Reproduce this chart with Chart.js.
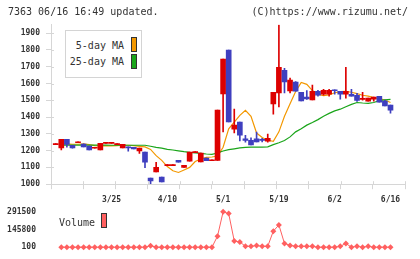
<!DOCTYPE html>
<html><head><meta charset="utf-8">
<script src="https://cdn.jsdelivr.net/npm/chart.js@4/dist/chart.umd.min.js"></script>
<style>
html,body{margin:0;padding:0;background:#fff;width:420px;height:259px;overflow:hidden;font-family:"DejaVu Sans Mono",monospace;}
#wrap{position:relative;width:420px;height:259px;}
.t{position:absolute;font-size:10px;color:#333;white-space:nowrap;line-height:10px;}
#main{position:absolute;left:0;top:0;}
#vol{position:absolute;left:0;top:200px;}
.leg{position:absolute;border:1px solid #d4d4d4;background:#fff;box-sizing:border-box;}
.sw{position:absolute;width:6px;height:15px;border:1px solid #333;box-sizing:border-box;}
</style></head>
<body><div id="wrap">
<canvas id="main" width="420" height="210"></canvas>
<canvas id="vol" width="420" height="59"></canvas>
<div class="t" style="left:8px;top:7px;">7363 06/16 16:49 updated.</div>
<div class="t" style="right:12px;top:7px;">(C)https://www.rizumu.net/</div>
<div class="leg" style="left:65px;top:30px;width:77px;height:48px;"></div>
<div class="t" style="right:296px;top:41px;">5-day MA</div>
<div class="sw" style="left:131px;top:37px;background:#f39800;"></div>
<div class="t" style="right:296px;top:57px;">25-day MA</div>
<div class="sw" style="left:131px;top:54px;background:#1aa51a;"></div>
<div class="t" style="left:59px;top:218px;">Volume</div>
<div class="sw" style="left:101px;top:213px;background:#ff6060;"></div>
</div>
<script>
// index 0 is the first (doji) candle; index p sits at category position p
const opens  = [1236,1216,1268,1232,1247,1239,1227,1214,1204,1243,1243,1236,1216,1222,1220,1198,1192,1036,1073,1042,1111,1111,1143,1100,1137,1188,1133,1156,1140,1141,1538,1799,1328,1370,1270,1262,1270,1263,1256,1479,1544,1679,1556,1608,1548,1519,1502,1554,1536,1536,1560,1554,1536,1536,1530,1506,1495,1507,1524,1495,1471];
const closes = [1238,1268,1237,1216,1250,1222,1204,1216,1244,1245,1245,1238,1238,1216,1210,1215,1132,1019,1101,1013,1113,1113,1131,1112,1191,1190,1185,1140,1142,1441,1745,1371,1352,1292,1261,1234,1252,1261,1274,1548,1697,1610,1620,1554,1497,1508,1554,1530,1560,1560,1557,1536,1554,1524,1500,1508,1513,1519,1489,1467,1441];
const highs  = [1238,1268,1268,1232,1250,1240,1227,1216,1244,1245,1245,1238,1238,1222,1220,1215,1192,1036,1131,1042,1113,1113,1143,1112,1191,1190,1185,1156,1142,1441,1745,1799,1447,1370,1292,1276,1310,1274,1298,1548,1950,1691,1632,1612,1548,1558,1590,1560,1566,1566,1562,1554,1697,1566,1542,1548,1513,1519,1524,1501,1471];
const lows   = [1236,1204,1220,1214,1247,1222,1204,1214,1204,1243,1243,1236,1216,1197,1210,1183,1099,1003,1073,1013,1111,1111,1131,1100,1137,1188,1133,1140,1140,1141,1312,1371,1306,1258,1250,1234,1252,1252,1250,1417,1461,1544,1544,1554,1497,1505,1502,1524,1530,1524,1536,1507,1513,1524,1494,1501,1495,1495,1489,1467,1423];
const ma5  = [null,1238,1240,1238,1238,1240,1236,1230,1228,1228,1228,1230,1232,1232,1230,1226,1222,1207,1170,1142,1105,1080,1070,1085,1100,1135,1150,1160,1162,1168,1220,1330,1370,1410,1440,1404,1305,1278,1262,1256,1312,1405,1480,1552,1606,1595,1558,1535,1528,1532,1545,1552,1553,1548,1540,1530,1525,1516,1510,1502,1487];
const ma25 = [null,1233,1233,1233,1233,1233,1233,1233,1233,1233,1232,1232,1232,1232,1232,1232,1232,1226,1220,1215,1208,1204,1199,1194,1190,1187,1184,1180,1178,1186,1198,1206,1211,1216,1220,1221,1221,1221,1223,1236,1247,1260,1282,1312,1330,1352,1368,1385,1405,1422,1437,1447,1462,1476,1487,1484,1482,1487,1498,1502,1505];
const volumes = [null,100,100,100,100,100,100,100,100,100,100,100,100,100,100,100,100,12000,100,100,100,100,100,100,100,100,100,100,100,91000,291500,277000,50700,43500,7300,7300,14600,7300,7300,132400,183000,31000,14600,7300,7300,7300,7300,100,100,100,100,7300,31000,100,7300,100,7300,100,100,100,100];
const dateTicks = [10,20,30,40,50,60];
const dateLabels = ['3/25','4/10','5/1','5/19','6/2','6/16'];
const priceTicks = [1000,1100,1200,1300,1400,1500,1600,1700,1800,1900];
const volumeTicks = [100,145800,291500];

const UP = '#dd0000', DOWN = '#3f3fbf', AXIS = '#d6d6d6';
const X_MIN = -0.846, X_MAX = 62.6;
const candleColors = opens.map((o, i) => closes[i] >= o ? UP : DOWN);
const tickFont = {family: 'DejaVu Sans Mono', size: 8, weight: 'bold'};
const plain = v => String(v);

const crossTicks = {
  id: 'crossTicks',
  afterDraw(chart) {
    const ctx = chart.ctx, ca = chart.chartArea;
    ctx.save();
    ctx.strokeStyle = AXIS; ctx.lineWidth = 1;
    ctx.beginPath();
    const ys = chart.scales.y;
    ys.ticks.forEach(t => { const py = Math.round(ys.getPixelForValue(t.value)) + 0.5; ctx.moveTo(ca.left, py); ctx.lineTo(ca.left + 3, py); });
    const xs = chart.scales.x;
    xs.ticks.forEach(t => { const px = Math.round(xs.getPixelForValue(t.value)) + 0.5; ctx.moveTo(px, ca.bottom); ctx.lineTo(px, ca.bottom - 3); });
    ctx.stroke();
    ctx.restore();
  }
};

const pos = opens.map((_, i) => i);

new Chart(document.getElementById('main'), {
  type: 'bar',
  data: { datasets: [
    { type: 'bar', data: pos.map(p => ({x: p, y: [opens[p], closes[p]]})), backgroundColor: candleColors, barThickness: 5, minBarLength: 1, grouped: false, order: 0 },
    { type: 'bar', data: pos.map(p => ({x: p, y: [lows[p], highs[p]]})), backgroundColor: candleColors, barThickness: 1, minBarLength: 1, grouped: false, order: 1 },
    { type: 'line', data: ma25.map((v, p) => ({x: p, y: v})), borderColor: '#1aa51a', borderWidth: 1.2, pointRadius: 0, order: 2 },
    { type: 'line', data: ma5.map((v, p) => ({x: p, y: v})), borderColor: '#f39800', borderWidth: 1.2, pointRadius: 0, order: 2 }
  ]},
  options: {
    responsive: false, animation: false, events: [],
    layout: { padding: { top: 24.8, right: 15, left: 0, bottom: 5.8 } },
    plugins: { legend: { display: false }, tooltip: { enabled: false } },
    scales: {
      x: { type: 'linear', min: X_MIN, max: X_MAX, offset: false, position: 'bottom',
           grid: { display: true, drawOnChartArea: false, drawTicks: true, tickLength: 5, color: AXIS, offset: false },
           border: { display: true, color: AXIS },
           ticks: { display: false },
           afterBuildTicks: s => { const n = 11; s.ticks = Array.from({length: n + 1}, (_, k) => ({value: s.min + (s.max - s.min) * k / n})); },
           afterFit: s => { s.height = 0; } },
      x2: { type: 'linear', min: X_MIN, max: X_MAX, offset: false, position: 'bottom',
           grid: { display: false }, border: { display: false },
           ticks: { font: tickFont, color: '#333', padding: 3, maxRotation: 0, autoSkip: false,
                    callback: v => dateLabels[dateTicks.indexOf(v)] },
           afterBuildTicks: s => { s.ticks = dateTicks.map(v => ({value: v})); },
           afterFit: s => { s.height = 20; } },
      y: { type: 'linear', min: 1000, max: 1950, position: 'left',
           grid: { display: true, drawOnChartArea: false, drawTicks: true, tickLength: 5, color: AXIS },
           border: { display: true, color: AXIS },
           ticks: { font: tickFont, color: '#333', padding: 6, callback: plain },
           afterBuildTicks: s => { s.ticks = priceTicks.map(v => ({value: v})); },
           afterFit: s => { s.width = 51; } }
    }
  },
  plugins: [crossTicks]
});

new Chart(document.getElementById('vol'), {
  type: 'line',
  data: { datasets: [
    { data: volumes.map((v, p) => ({x: p, y: v})), borderColor: '#ff6060', borderWidth: 1,
      pointStyle: 'rectRot', pointRadius: 3, pointBackgroundColor: '#ff6060', pointBorderWidth: 0, clip: false }
  ]},
  options: {
    responsive: false, animation: false, events: [],
    layout: { padding: { top: 9, right: 15, left: 0, bottom: 9.7 } },
    plugins: { legend: { display: false }, tooltip: { enabled: false } },
    scales: {
      x: { type: 'linear', min: X_MIN, max: X_MAX, display: false },
      y: { type: 'linear', min: 100, max: 291500, position: 'left',
           grid: { display: false }, border: { display: false },
           ticks: { font: tickFont, color: '#333', padding: 7, callback: plain },
           afterBuildTicks: s => { s.ticks = volumeTicks.map(v => ({value: v})); },
           afterFit: s => { s.width = 51; } }
    }
  }
});
</script>
</body></html>
